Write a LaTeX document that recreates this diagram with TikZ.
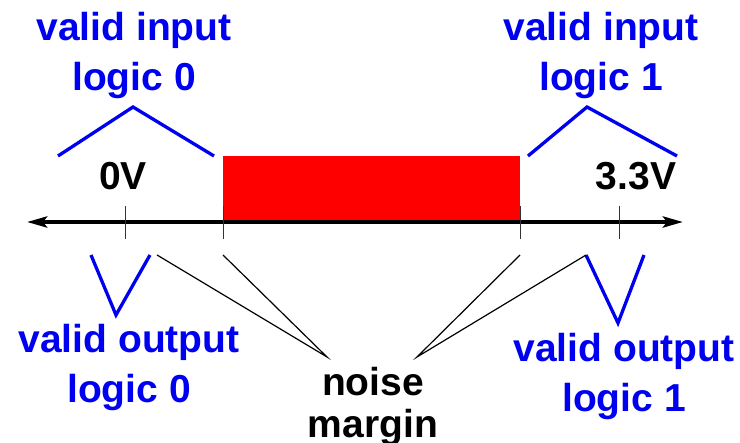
\documentclass[tikz,border=0pt]{standalone}
\usepackage{fontspec}
\setmainfont{Liberation Sans}
\usetikzlibrary{arrows.meta}
\definecolor{lblblue}{RGB}{0,0,240}
\definecolor{zonered}{RGB}{255,0,0}
\tikzset{
  lbl/.style={font=\bfseries\fontsize{39}{50}\selectfont, align=center, inner sep=0pt},
  bluelbl/.style={lbl, text=lblblue},
  bluebrace/.style={draw=lblblue, line width=3.3pt},
  pointer/.style={draw=black, line width=1.2pt},
  tickmark/.style={draw=black!80, line width=1pt},
}
\begin{document}
\begin{tikzpicture}[x=1pt, y=-1pt]
  \useasboundingbox (0,0) rectangle (740,443);

  % forbidden region between the input thresholds
  \fill[zonered] (223,156) rectangle (520,222);

  % voltage axis
  \coordinate (axL) at (27,222);
  \coordinate (axR) at (683,222);
  \draw[line width=4pt, {Stealth[length=20pt,width=11pt,inset=4pt]}-{Stealth[length=20pt,width=11pt,inset=4pt]}] (axL) -- (axR);

  % tick marks
  \foreach \n/\x in {t0/125, til/223, tih/520, t3/619} {
    \coordinate (\n a) at (\x,206);
    \coordinate (\n b) at (\x,239);
    \draw[tickmark] (\n a) -- (\n b);
  }

  % voltage labels
  \node[lbl, anchor=base] (v0) at (123,190) {0V};
  \node[lbl, anchor=base] (v33) at (636,190) {3.3V};

  % input ranges
  \node[bluelbl] (in0) at (134,56) {valid input\\logic 0};
  \node[bluelbl] (in1) at (601,56) {valid input\\logic 1};
  \coordinate (in0l) at (58,156);
  \coordinate (in0p) at (133,107);
  \coordinate (in0r) at (214,156);
  \draw[bluebrace] (in0l) -- (in0p) -- (in0r);
  \coordinate (in1l) at (528,156);
  \coordinate (in1p) at (587,107);
  \coordinate (in1r) at (677,156);
  \draw[bluebrace] (in1l) -- (in1p) -- (in1r);

  % output ranges
  \node[bluelbl] (out0) at (129,368) {valid output\\logic 0};
  \node[bluelbl] (out1) at (624,377) {valid output\\logic 1};
  \coordinate (out0l) at (91,255);
  \coordinate (out0p) at (116,315);
  \coordinate (out0r) at (150,255);
  \draw[bluebrace] (out0l) -- (out0p) -- (out0r);
  \coordinate (out1l) at (586,255);
  \coordinate (out1p) at (618,323);
  \coordinate (out1r) at (644,255);
  \draw[bluebrace] (out1l) -- (out1p) -- (out1r);

  % noise margins
  \node[lbl, font=\bfseries\fontsize{39}{42}\selectfont] (nm) at (373,407) {noise\\margin};
  \coordinate (nmL) at (327,357);
  \coordinate (nmR) at (417,357);
  \coordinate (nl1) at (157,255);
  \coordinate (nl2) at (223,255);
  \coordinate (nr1) at (520,255);
  \coordinate (nr2) at (586,255);
  \draw[pointer] (nl1) -- (nmL) -- (nl2);
  \draw[pointer] (nr1) -- (nmR) -- (nr2);
\end{tikzpicture}
\end{document}
